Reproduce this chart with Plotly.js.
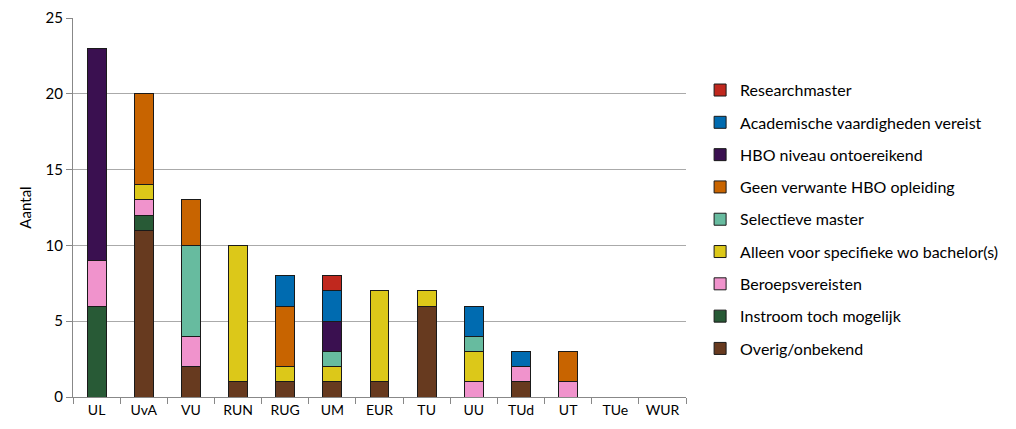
<!DOCTYPE html>
<html>
<head>
<meta charset="utf-8">
<script src="https://cdn.plot.ly/plotly-3.0.1.min.js"></script>
<style>html,body{margin:0;padding:0;background:#fff;}#chart{width:1016px;height:429px;}</style>
</head>
<body>
<div id="chart"></div>
<script>
var categories = ["UL","UvA","VU","RUN","RUG","UM","EUR","TU","UU","TUd","UT","TUe","WUR"];
var seriesNames = ["Overig/onbekend","Instroom toch mogelijk","Beroepsvereisten","Alleen voor specifieke wo bachelor(s)","Selectieve master","Geen verwante HBO opleiding","HBO niveau ontoereikend","Academische vaardigheden vereist","Researchmaster"];
var overig      = [0,11,2,1,1,1,1,6,0,1,0,0,0];
var instroom    = [6,1,0,0,0,0,0,0,0,0,0,0,0];
var beroeps     = [3,1,2,0,0,0,0,0,1,1,1,0,0];
var alleen      = [0,1,0,9,1,1,6,1,2,0,0,0,0];
var selectieve  = [0,0,6,0,0,1,0,0,1,0,0,0,0];
var geen        = [0,6,3,0,4,0,0,0,0,0,2,0,0];
var hboNiveau   = [14,0,0,0,0,2,0,0,0,0,0,0,0];
var academische = [0,0,0,0,2,2,0,0,2,1,0,0,0];
var research    = [0,0,0,0,0,1,0,0,0,0,0,0,0];
var seriesValues = [overig,instroom,beroeps,alleen,selectieve,geen,hboNiveau,academische,research];
var colors = ["#673A1F","#285A36","#F093CC","#DCC819","#67BB9F","#C86400","#3A1050","#006BB0","#C0281E"];

var traces = seriesNames.map(function(name,i){
  return {
    type:'bar', name:name, x:categories,
    y:seriesValues[i].map(function(v){return v===0?null:v;}),
    marker:{color:colors[i], line:{color:'#1a1a1a', width:1}},
    legendgroup:'g'+i, legendrank: seriesNames.length - i,
    hoverinfo:'x+y+name'
  };
});

var layout = {
  width:1016, height:429,
  margin:{l:73, r:328, t:18, b:32},
  barmode:'stack', bargap:0.6,
  paper_bgcolor:'#fff', plot_bgcolor:'#fff',
  font:{family:'Lato, "Open Sans", sans-serif', size:14, color:'#000'},
  showlegend:true,
  legend:{x:1.023, xanchor:'left', y:0.468, yanchor:'middle', traceorder:'grouped', tracegroupgap:8.5, font:{size:16}, itemwidth:30},
  xaxis:{type:'category', showline:true, linecolor:'#888', linewidth:1, ticks:'outside', tickson:'boundaries', ticklen:6, tickcolor:'#888', showgrid:false, tickfont:{size:14}, range:[-0.5,12.5]},
  yaxis:{range:[0,25], dtick:5, showline:true, linecolor:'#888', linewidth:1, ticks:'outside', ticklen:6, tickcolor:'#888', showgrid:true, gridcolor:'#aaa', gridwidth:1, zeroline:false, tickfont:{size:15},
    title:{text:'Aantal', font:{size:15}, standoff:10}}
};
Plotly.newPlot('chart', traces, layout, {displayModeBar:false, staticPlot:true});
</script>
</body>
</html>
